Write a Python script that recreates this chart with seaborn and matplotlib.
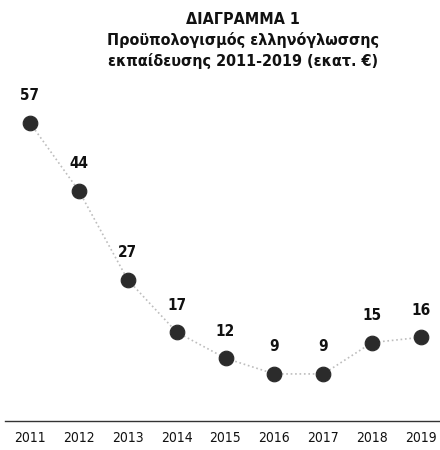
import matplotlib
matplotlib.use('Agg')
import matplotlib.pyplot as plt
import seaborn as sns
import pandas as pd

# δεδομένα
years = [2011, 2012, 2013, 2014, 2015, 2016, 2017, 2018, 2019]
budget = [57, 44, 27, 17, 12, 9, 9, 15, 16]
title_lines = ['ΔΙΑΓΡΑΜΜΑ 1', 'Προϋπολογισμός ελληνόγλωσσης', 'εκπαίδευσης 2011-2019 (εκατ. €)']

sns.set_theme(style='white')
plt.rcParams['font.family'] = ['DejaVu Sans']
plt.rcParams['font.stretch'] = 'condensed'

df = pd.DataFrame({'year': years, 'budget': budget})

fig = plt.figure(figsize=(4.4, 4.5), dpi=100)
ax = fig.add_axes([5 / 440, 29 / 450, 435 / 440, 313.8 / 450])

sns.lineplot(data=df, x='year', y='budget', ax=ax, color='#bdbdbd',
             linestyle=':', linewidth=1.2)
sns.scatterplot(data=df, x='year', y='budget', ax=ax, color='#2b2b2b',
                s=110, edgecolor='#2b2b2b', zorder=3)

for x, y in zip(years, budget):
    ax.annotate(str(y), (x, y), xytext=(0, 19.5), textcoords='offset points',
                ha='center', va='center', fontsize=11, fontweight='bold',
                color='#111111')

ax.set_xlim(2011 - 25 / 48.875, 2019 + 19 / 48.875)
ax.set_ylim(0, 60)
ax.set_xticks(years)
ax.set_xticklabels([str(y) for y in years], fontsize=10, color='#111111')
ax.tick_params(axis='x', length=0, pad=7)
ax.set_yticks([])
ax.set_xlabel('')
ax.set_ylabel('')
for side in ['top', 'left', 'right']:
    ax.spines[side].set_visible(False)
ax.spines['bottom'].set_color('#333333')
ax.spines['bottom'].set_linewidth(1.0)

for i, line in enumerate(title_lines):
    fig.text(243 / 440, 1 - (20 + 20.5 * i) / 450, line, ha='center', va='center',
             fontsize=11.5, fontweight='bold', color='#111111')

fig.savefig('out.png', dpi=100)
